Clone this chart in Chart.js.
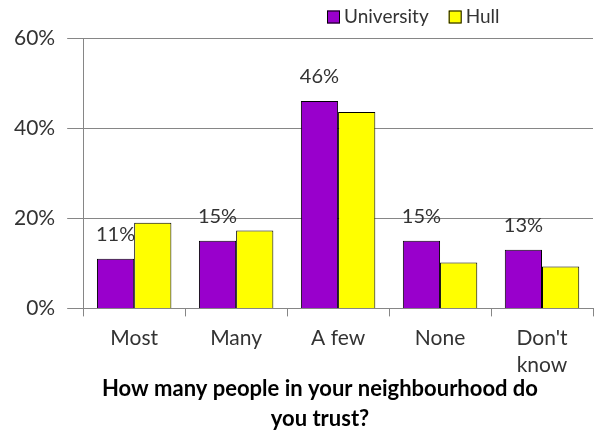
<!DOCTYPE html>
<html>
<head>
<meta charset="utf-8">
<script src="https://cdn.jsdelivr.net/npm/chart.js@4"></script>
<style>
  html, body { margin: 0; padding: 0; background: #fff; }
  #wrap { width: 598px; height: 439px; }
</style>
</head>
<body>
<div id="wrap"><canvas id="trustChart"></canvas></div>
<script>
const categories = ["Most", "Many", "A few", "None", ["Don't", "know"]];
const university = [11, 15, 46, 15, 13];
const hull = [19, 17.3, 43.6, 10.2, 9.3];
const yTicks = [0, 20, 40, 60];
const titleLines = ["How many people in your neighbourhood do", "you trust?"];

const FONT = "Lato";
const axisGrey = "#868686";
const textGrey = "#333333";

// percentage labels above the University bars
const barLabels = {
  id: "barLabels",
  afterDatasetsDraw(chart) {
    const ctx = chart.ctx;
    const meta = chart.getDatasetMeta(0);
    ctx.save();
    ctx.font = "20px " + FONT;
    ctx.fillStyle = textGrey;
    ctx.textAlign = "center";
    ctx.textBaseline = "alphabetic";
    meta.data.forEach((bar, i) => {
      ctx.fillText(Math.round(university[i]) + "%", bar.x, bar.y - 18);
    });
    ctx.restore();
  },
};

// legend in the top right corner
const topLegend = {
  id: "topLegend",
  afterDraw(chart) {
    const ctx = chart.ctx;
    ctx.save();
    ctx.font = "19px " + FONT;
    ctx.textBaseline = "middle";
    let x = 327;
    const y = 17;
    chart.data.datasets.forEach((ds) => {
      ctx.fillStyle = ds.backgroundColor;
      ctx.fillRect(x, y - 6.5, 13, 13);
      ctx.strokeStyle = "#000";
      ctx.lineWidth = 1;
      ctx.strokeRect(x + 0.5, y - 6, 12, 12);
      ctx.fillStyle = textGrey;
      ctx.fillText(ds.label, x + 17, y);
      x += 17 + ctx.measureText(ds.label).width + 20;
    });
    ctx.restore();
  },
};

// two-line question under the axis
const bottomTitle = {
  id: "bottomTitle",
  afterDraw(chart) {
    const ctx = chart.ctx;
    ctx.save();
    ctx.font = "bold 22px " + FONT;
    ctx.fillStyle = "#000";
    ctx.textAlign = "center";
    ctx.textBaseline = "alphabetic";
    titleLines.forEach((line, i) => {
      ctx.fillText(line, 320, 396 + i * 30);
    });
    ctx.restore();
  },
};

new Chart(document.getElementById("trustChart"), {
  type: "bar",
  data: {
    labels: categories,
    datasets: [
      {
        label: "University",
        data: university,
        backgroundColor: "#9900CC",
        borderColor: "#000000",
        borderWidth: 1,
        categoryPercentage: 0.73,
        barPercentage: 1.0,
      },
      {
        label: "Hull",
        data: hull,
        backgroundColor: "#FFFF00",
        borderColor: "#000000",
        borderWidth: 1,
        categoryPercentage: 0.73,
        barPercentage: 1.0,
      },
    ],
  },
  options: {
    responsive: true,
    maintainAspectRatio: false,
    animation: false,
    devicePixelRatio: 1,
    layout: { padding: { top: 38, left: 2, right: 5, bottom: 52 } },
    plugins: {
      legend: { display: false },
      tooltip: { enabled: false },
    },
    scales: {
      x: {
        grid: {
          display: true,
          drawOnChartArea: false,
          offset: true,
          tickLength: 8,
          color: axisGrey,
        },
        border: { color: axisGrey },
        ticks: {
          font: { family: FONT, size: 21, lineHeight: 1.3 },
          color: textGrey,
          padding: 8,
          maxRotation: 0,
        },
      },
      y: {
        min: 0,
        max: 60,
        afterBuildTicks(axis) {
          axis.ticks = yTicks.map((v) => ({ value: v }));
        },
        grid: { color: axisGrey, tickLength: 16 },
        border: { color: axisGrey },
        ticks: {
          font: { family: FONT, size: 21 },
          color: textGrey,
          padding: 12,
          callback: (v) => v + "%",
        },
      },
    },
  },
  plugins: [barLabels, topLegend, bottomTitle],
});
</script>
</body>
</html>
